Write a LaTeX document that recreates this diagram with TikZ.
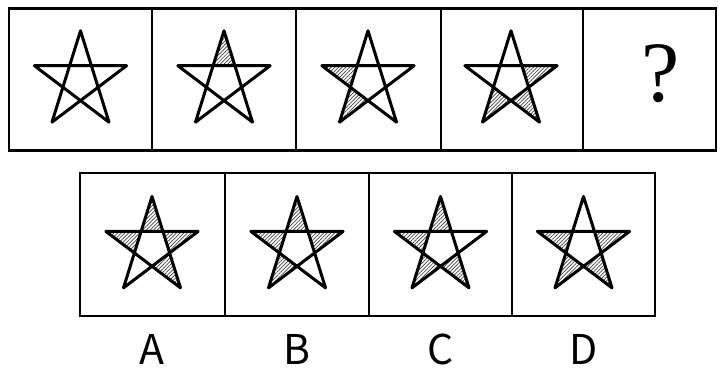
\documentclass[tikz,border=0pt]{standalone}
\usepackage{fontspec}
\newfontfamily\labelfont{Noto Sans CJK JP}
\newfontfamily\markfont{Liberation Serif}
\usetikzlibrary{patterns.meta}

\begin{document}
\begin{tikzpicture}[
                cell/.style={
                    draw=black,
                    line width=2.8pt
                },
                starline/.style={
                    draw=black,
                    line width=3pt,
                    line join=round
                },
                hatch/.style={
                    pattern={Lines[angle=45,distance=2.6pt,line width=0.7pt]},
                    pattern color=black!75
                },
                letter/.style={
                    font=\labelfont\fontsize{41}{41}\selectfont,
                    inner sep=0pt,
                    anchor=base
                },
                x=1pt,
                y=1pt
            ]

        \useasboundingbox (0,0) rectangle (718,369);

        \newcommand{\staroutline}{%
            \draw[starline]
                (90:48.5 and 50.5) -- (234:48.5 and 50.5) -- (18:48.5 and 50.5)
                -- (162:48.5 and 50.5) -- (306:48.5 and 50.5) -- cycle;
        }
        \newcommand{\starat}[3]{%
            \begin{scope}[shift={(#1,#2)}]
                \foreach \k in {#3}
                \fill[hatch]
                    ({90+72*\k}:48.5 and 50.5)
                    -- ({54+72*\k}:18.5 and 19.3)
                    -- ({126+72*\k}:18.5 and 19.3) -- cycle;
                \staroutline
            \end{scope}
        }

        % top row
        \draw[cell] (9,218.5) rectangle (716,360.5);
        \foreach \x in {152,296,441,583}
        \draw[cell] (\x,218.5) -- (\x,360.5);

        \begin{scope}[shift={(80.5,287.7)}]
            \staroutline
        \end{scope}
        \starat{224}{287.7}{0}
        \starat{368}{287.7}{1,2}
        \starat{511}{287.7}{4,2,3}
        \node[inner sep=0pt] (qmark) at (661,295) {\markfont\fontsize{86}{86}\selectfont ?};

        % answer row
        \draw[cell] (80,53) rectangle (655,196);
        \foreach \x in {225,369,512}
        \draw[cell] (\x,53) -- (\x,196);

        \starat{152}{122}{0,1,4,3}
        \starat{297}{122}{0,1,4,2}
        \starat{440.5}{122}{0,1,2,3}
        \starat{583.5}{122}{1,4,2,3}

        % labels
        \node[letter] (labA) at (152,4) {A};
        \node[letter] (labB) at (297,4) {B};
        \node[letter] (labC) at (440.5,4) {C};
        \node[letter] (labD) at (583.5,4) {D};

            \end{tikzpicture}
\end{document}
